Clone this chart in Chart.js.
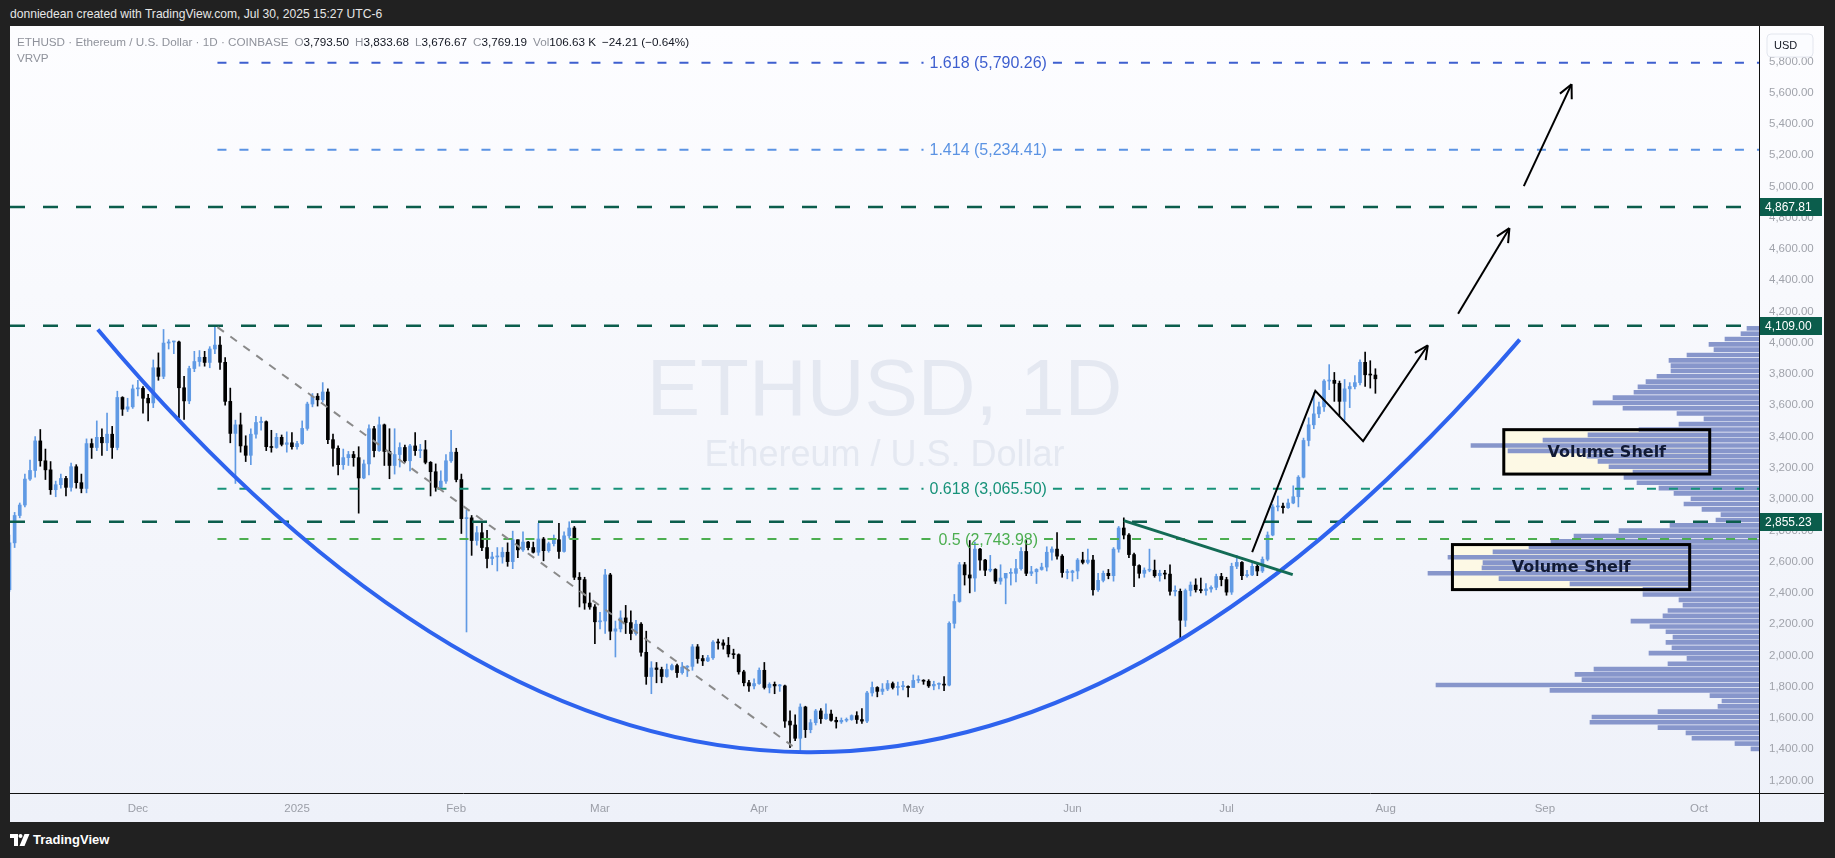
<!DOCTYPE html>
<html>
<head>
<meta charset="utf-8">
<script src="https://cdn.jsdelivr.net/npm/chart.js@4.4.1/dist/chart.umd.min.js"></script>
<style>
  html, body { margin: 0; padding: 0; }
  body { width: 1835px; height: 858px; background: #212121; position: relative; overflow: hidden;
         font-family: "Liberation Sans", Arial, sans-serif; }
  #hdr { position: absolute; left: 10px; top: 7px; color: #e6e6e6; font-size: 12.1px; }
  #panel { position: absolute; left: 10px; top: 26px; width: 1814px; height: 796px;
           background: linear-gradient(#fdfdff, #eef1f9); }
  #wrap { position: absolute; left: 0; top: 0; width: 1814px; height: 796px; }
  #legend { position: absolute; left: 7px; top: 9px; font-size: 11.7px; color: #8f929b; white-space: nowrap; }
  #legend b { font-weight: normal; color: #131722; }
  #legend span { margin-left: 6px; }
  #vrvp { position: absolute; left: 7px; top: 25px; font-size: 11.7px; color: #8f929b; }
  #brand { position: absolute; left: 10px; top: 832px; color: #fff; font-size: 13px; font-weight: bold;
           display: flex; align-items: center; gap: 3px; }
</style>
</head>
<body>
<div id="hdr">donniedean created with TradingView.com, Jul 30, 2025 15:27 UTC-6</div>
<div id="panel">
  <div id="wrap"><canvas id="chart"></canvas></div>
  <div id="legend"></div>
  <div id="vrvp">VRVP</div>
</div>
<div id="brand">
  <svg width="20" height="12" viewBox="0 0 20 12"><path fill="#fff" d="M0 0h8v12h-4v-8h-4z"/><circle cx="10.5" cy="2" r="2" fill="#fff"/><path fill="#fff" d="M14.5 0h5l-5 12h-5z"/></svg>
  <span>TradingView</span>
</div>
<script>
// ETHUSD daily, Coinbase, 2024-11-06 .. 2025-07-30
const firstDate = '2024-11-06'
const opens = [
  2421,2720,2895,2962,3128,3183,3372,3245,3187,3060,3092,3132,3075,3207,3105,3068,3355,3330,3395,3360,3415,3330,3650,3575,3590, // nov
  3705,3708,3645,3615,3840,3785,3998,4005,4005,3712,3628,3835,3880,3907,3874,3960,3985,3875,3625,3420,3475,3340,3280,3415,3490,3495,3335,3330,3395,3350,3360, // dec
  3335,3355,3452,3608,3658,3635,3685,3380,3325,3220,3265,3285,3265,3135,3225,3450,3310,3475,3305,3215,3285,3330,3245,3340,3310,3315,3235,3175,3075,3115,3245, // jan
  3300,3125,2875,2880,2735,2785,2690,2620,2630,2630,2660,2600,2740,2675,2725,2690,2660,2745,2670,2715,2740,2665,2765,2815,2500,2485,2335,2310, // feb
  2215,2220,2515,2155,2170,2240,2210,2140,2200,2020,1865,1920,1910,1865,1910,1935,1890,1925,1930,2055,1980,1965,1985,2085,2080,2065,2010,2005,1895,1825,1805, // mar
  1820,1905,1795,1815,1805,1805,1580,1555,1470,1670,1525,1570,1645,1595,1625,1585,1575,1585,1590,1615,1590,1580,1760,1795,1770,1785,1820,1795,1800,1800, // apr
  1795,1840,1840,1835,1805,1815,1815,1810,2205,2345,2580,2515,2495,2680,2610,2545,2550,2475,2495,2525,2525,2555,2665,2525,2535,2550,2565,2660,2680,2635,2530, // may
  2530,2540,2610,2595,2610,2420,2480,2525,2510,2680,2815,2770,2645,2575,2525,2545,2545,2510,2525,2520,2410,2410,2225,2415,2450,2420,2415,2425,2435,2505, // jun
  2485,2405,2570,2595,2510,2515,2570,2540,2615,2770,2950,2955,2945,2975,3015,3140,3375,3475,3545,3590,3755,3760,3740,3625,3705,3720,3745,3875,3795,3793.5 // jul
]
const highs = [
  2770,2915,2975,3160,3250,3400,3445,3320,3240,3115,3160,3145,3230,3220,3160,3385,3385,3500,3450,3550,3465,3690,3655,3645,3730,
  3760,3720,3670,3890,3935,4085,4020,4010,4010,3785,3850,3945,3950,3945,3975,4109,4040,3905,3710,3505,3550,3405,3450,3530,3525,3500,3440,3420,3410,3430,3425,
  3370,3500,3620,3675,3675,3745,3705,3415,3340,3320,3305,3305,3335,3250,3475,3465,3525,3480,3450,3450,3360,3345,3350,3425,3350,3375,3240,3225,3180,3285,3440,
  3325,3160,2930,2895,2825,2850,2800,2660,2690,2690,2720,2795,2740,2790,2730,2725,2845,2755,2725,2770,2845,2790,2855,2825,2530,2500,2400,2325,
  2275,2550,2525,2220,2285,2320,2285,2225,2210,2155,1960,1955,1925,1945,1945,1945,1955,1935,2070,2070,2000,2000,2095,2105,2100,2115,2040,2010,1905,1840,1850,
  1920,1955,1825,1830,1815,1810,1645,1620,1690,1675,1590,1655,1660,1690,1650,1605,1600,1600,1620,1640,1660,1770,1830,1800,1820,1840,1830,1830,1835,1805,
  1875,1870,1845,1845,1835,1825,1865,2215,2390,2595,2595,2735,2725,2685,2615,2640,2555,2580,2525,2555,2615,2690,2735,2570,2555,2590,2695,2695,2785,2645,2550,
  2545,2620,2660,2680,2640,2525,2540,2550,2690,2825,2880,2780,2655,2580,2560,2680,2610,2545,2545,2580,2445,2425,2425,2470,2490,2495,2460,2445,2520,2525,
  2500,2590,2640,2600,2545,2590,2590,2630,2790,2965,3020,2975,3000,3085,3150,3390,3520,3680,3620,3765,3860,3810,3755,3765,3745,3790,3890,3940,3885,3833.68
]
const lows = [
  2410,2690,2880,2950,3120,3140,3210,3125,3030,3015,3070,3020,3050,3070,3040,3040,3260,3310,3280,3310,3260,3315,3535,3560,3580,
  3660,3550,3500,3585,3760,3770,3960,3930,3520,3510,3610,3815,3850,3850,3840,3930,3830,3600,3360,3100,3300,3240,3220,3390,3440,3310,3300,3325,3340,3300,3320,
  3320,3350,3440,3590,3595,3620,3355,3210,3155,3190,3215,3210,2910,3130,3155,3270,3305,3215,3130,3160,3205,3235,3180,3280,3265,3225,3020,3050,3060,3100,3235,
  3110,2780,2150,2640,2705,2670,2560,2580,2540,2590,2570,2555,2625,2665,2675,2655,2640,2605,2660,2700,2620,2660,2750,2485,2310,2295,2295,2075,
  2170,2140,2100,1990,2150,2140,2100,2130,1995,1815,1755,1825,1825,1860,1905,1860,1880,1865,1905,1950,1935,1960,1975,2040,2040,1990,1980,1880,1805,1770,1785,
  1815,1785,1760,1755,1770,1540,1410,1455,1385,1475,1505,1555,1565,1590,1580,1535,1565,1575,1585,1565,1565,1570,1740,1735,1750,1775,1785,1745,1780,1735,
  1795,1825,1815,1795,1780,1785,1775,1805,2175,2340,2450,2400,2410,2545,2510,2535,2460,2455,2330,2450,2470,2545,2510,2510,2460,2545,2540,2610,2615,2500,2490,
  2475,2490,2585,2585,2385,2410,2470,2490,2475,2660,2745,2625,2440,2495,2500,2535,2500,2475,2490,2385,2380,2110,2185,2380,2405,2400,2385,2405,2420,2445,
  2385,2390,2555,2485,2500,2510,2510,2530,2605,2765,2925,2910,2940,2970,2950,3135,3340,3450,3520,3560,3700,3625,3530,3505,3585,3705,3730,3720,3710,3676.67
]
const closes = [
  2720,2895,2962,3128,3183,3372,3245,3187,3060,3092,3132,3075,3207,3105,3068,3355,3330,3395,3360,3415,3330,3650,3575,3590,3705,
  3708,3645,3615,3840,3785,3998,4005,4005,3712,3628,3835,3880,3907,3874,3960,3985,3875,3625,3420,3475,3340,3280,3415,3490,3495,3335,3330,3395,3350,3360,3335,
  3355,3452,3608,3658,3635,3685,3380,3325,3220,3265,3285,3265,3135,3225,3450,3310,3475,3305,3215,3285,3330,3245,3340,3310,3315,3235,3175,3075,3115,3245,3300,
  3125,2875,2880,2735,2785,2690,2620,2630,2630,2660,2600,2740,2675,2725,2690,2660,2745,2670,2715,2740,2665,2765,2815,2500,2485,2335,2310,2215,
  2220,2515,2155,2170,2240,2210,2140,2200,2020,1865,1920,1910,1865,1910,1935,1890,1925,1930,2055,1980,1965,1985,2085,2080,2065,2010,2005,1895,1825,1805,1820,
  1905,1795,1815,1805,1805,1580,1555,1470,1670,1525,1570,1645,1595,1625,1585,1575,1585,1590,1615,1590,1580,1760,1795,1770,1785,1820,1795,1800,1800,1795,
  1840,1840,1835,1805,1815,1815,1810,2205,2345,2580,2515,2495,2680,2610,2545,2550,2475,2495,2525,2525,2555,2665,2525,2535,2550,2565,2660,2680,2635,2530,2530,
  2540,2610,2595,2610,2420,2480,2525,2510,2680,2815,2770,2645,2575,2525,2545,2545,2510,2525,2520,2410,2410,2225,2415,2450,2420,2415,2425,2435,2505,2485,
  2405,2570,2595,2510,2515,2570,2540,2615,2770,2950,2955,2945,2975,3015,3140,3375,3475,3545,3590,3755,3760,3740,3625,3705,3720,3745,3875,3795,3793.4,3769.19
]

// visible range volume profile (VRVP), rows bottom -> top
const vpLow = 1385, vpHigh = 4109
const vpVolume = [
  8,24,67,73,101,169,167,101,41,37,49,209,323,177,184,165,91,72,110,87,93,
  86,93,109,128,96,91,76,80,116,116,189,260,331,277,276,311,266,230,208,185,
  140,89,43,38,57,75,68,85,100,122,135,126,150,161,172,251,288,216,171,120,
  80,55,82,136,166,146,125,121,113,102,88,88,90,72,45,50,34,18,12
]

// axes
const priceTicks = [1200,1400,1600,1800,2000,2200,2400,2600,2800,3000,3200,3400,3600,3800,4000,4200,4400,4600,4800,5000,5200,5400,5600,5800]
const monthDates = ['2024-12-01','2025-01-01','2025-02-01','2025-03-01','2025-04-01','2025-05-01','2025-06-01','2025-07-01','2025-08-01','2025-09-01','2025-10-01']
const monthLabels = ['Dec','2025','Feb','Mar','Apr','May','Jun','Jul','Aug','Sep','Oct']

// drawings (day offset from 2024-12-01, price)
const levelPrices = [4867.81, 4109.00, 2855.23]
const fibRatios = ['1.618','1.414','0.618','0.5']
const fibPrices = [5790.26, 5234.41, 3065.50, 2743.98]
const fibFromDay = 15.5
const grayTrend = [[15.5, 4100], [127.5, 1420]]
const greenTrend = [[192, 2862], [224.9, 2517]]
const cupArc = [[-7.8, 4085], [129.8, -1290], [269.1, 4020]]   // start, control, end
const pathArrows = [
  [[217.0, 2660], [229.3, 3692], [238.6, 3371], [251.2, 3984]],
  [[257.1, 4186], [267.1, 4733]],
  [[269.9, 5002], [279.2, 5654]]
]
const shelves = [[266.0, 306.1, 3160, 3444], [256.0, 302.2, 2421, 2709]]
const shelfText = 'Volume Shelf'
const watermark = ['ETHUSD, 1D', 'Ethereum / U.S. Dollar']

// styles
const FONT = '"Liberation Sans", Arial, sans-serif'
const upColor = '#609ae4', downColor = '#000000'
const levelColor = '#0b5d4c'
const fibColors = ['#3e5fcf', '#5b93e3', '#179279', '#4cae50']
const vpColor = '#8796cb'

const DAY = 86400000
const base = Date.UTC(2024, 11, 1)
function dayOf(s){ const p = s.split('-').map(Number); return (Date.UTC(p[0], p[1]-1, p[2]) - base) / DAY }
const day0 = dayOf(firstDate)
const monthDays = monthDates.map(dayOf)

const candleColors = closes.map((c, i) => c >= opens[i] ? upColor : downColor)
const wickData = closes.map((c, i) => ({x: day0 + i, y: [lows[i], highs[i]]}))
const bodyData = closes.map((c, i) => ({x: day0 + i, y: [opens[i], c]}))
const vpStep = (vpHigh - vpLow) / vpVolume.length
const vpData = vpVolume.map((v, i) => ({y: vpLow + (i + 0.5) * vpStep, x: v}))

// legend line
const last = closes.length - 1
const fmt = v => v.toLocaleString('en-US', {minimumFractionDigits: 2, maximumFractionDigits: 2})
const chg = closes[last] - closes[last - 1]
document.getElementById('legend').innerHTML =
  'ETHUSD · Ethereum / U.S. Dollar · 1D · COINBASE' +
  '<span>O<b>' + fmt(opens[last]) + '</b></span><span>H<b>' + fmt(highs[last]) + '</b></span>' +
  '<span>L<b>' + fmt(lows[last]) + '</b></span><span>C<b>' + fmt(closes[last]) + '</b></span>' +
  '<span>Vol<b>106.63 K</b></span><span><b>' + (chg < 0 ? '−' : '+') + fmt(Math.abs(chg)) +
  ' (' + (chg < 0 ? '−' : '+') + fmt(Math.abs(chg / closes[last - 1] * 100)) + '%)</b></span>'

function line(ctx, pts, color, w, dash){
  ctx.beginPath()
  ctx.setLineDash(dash || [])
  ctx.strokeStyle = color
  ctx.lineWidth = w
  pts.forEach((p, i) => i ? ctx.lineTo(p[0], p[1]) : ctx.moveTo(p[0], p[1]))
  ctx.stroke()
}
function arrowHead(ctx, a, b, len){
  const ang = Math.atan2(b[1] - a[1], b[0] - a[0])
  ctx.beginPath()
  ctx.setLineDash([])
  for (const s of [-1, 1]) {
    ctx.moveTo(b[0], b[1])
    ctx.lineTo(b[0] - len * Math.cos(ang + s * 0.45), b[1] - len * Math.sin(ang + s * 0.45))
  }
  ctx.stroke()
}

const drawings = {
  id: 'drawings',
  beforeDatasetsDraw(chart){
    const {ctx, chartArea: a, scales: {x, y}} = chart
    ctx.save()
    ctx.textAlign = 'center'
    ctx.fillStyle = '#e4e8f1'
    ctx.font = '80px ' + FONT
    ctx.fillText(watermark[0], (a.left + a.right) / 2, a.top + 389)
    ctx.font = '36px ' + FONT
    ctx.fillText(watermark[1], (a.left + a.right) / 2, a.top + 440)
    ctx.fillStyle = 'rgba(253,249,228,0.95)'
    shelves.forEach(s => {
      ctx.fillRect(x.getPixelForValue(s[0]), y.getPixelForValue(s[3]),
        x.getPixelForValue(s[1]) - x.getPixelForValue(s[0]), y.getPixelForValue(s[2]) - y.getPixelForValue(s[3]))
    })
    ctx.restore()
  },
  afterDatasetsDraw(chart){
    const {ctx, chartArea: a, scales: {x, y}} = chart
    const P = p => [x.getPixelForValue(p[0]), y.getPixelForValue(p[1])]
    ctx.save()
    ctx.beginPath()
    ctx.rect(a.left, a.top, a.right - a.left, a.bottom - a.top)
    ctx.clip()

    // fib levels with centred labels
    ctx.font = '16px ' + FONT
    ctx.textAlign = 'center'
    ctx.textBaseline = 'middle'
    const fx = x.getPixelForValue(fibFromDay)
    fibPrices.forEach((p, i) => {
      const py = y.getPixelForValue(p)
      const label = fibRatios[i] + ' (' + fmt(p) + ')'
      const cx = (fx + a.right) / 2
      const w = ctx.measureText(label).width
      line(ctx, [[fx, py], [cx - w / 2 - 6, py]], fibColors[i], 2, [9, 13])
      line(ctx, [[cx + w / 2 + 6, py], [a.right, py]], fibColors[i], 2, [9, 13])
      ctx.fillStyle = fibColors[i]
      ctx.fillText(label, cx, py + 1)
    })

    // key horizontal levels
    levelPrices.forEach(p => {
      const py = y.getPixelForValue(p)
      line(ctx, [[a.left, py], [a.right, py]], levelColor, 2.6, [15, 18])
    })

    line(ctx, grayTrend.map(P), '#8a8a8a', 2, [8, 8])

    // cup curve
    const c = cupArc.map(P)
    ctx.beginPath()
    ctx.setLineDash([])
    ctx.strokeStyle = '#2e63ee'
    ctx.lineWidth = 4
    ctx.moveTo(c[0][0], c[0][1])
    ctx.quadraticCurveTo(c[1][0], c[1][1], c[2][0], c[2][1])
    ctx.stroke()

    line(ctx, greenTrend.map(P), '#136b55', 3)

    pathArrows.forEach(path => {
      const pts = path.map(P)
      line(ctx, pts, '#000', 2)
      ctx.strokeStyle = '#000'
      arrowHead(ctx, pts[pts.length - 2], pts[pts.length - 1], 15)
    })

    // volume shelf boxes
    ctx.font = 'bold 16px "DejaVu Sans", ' + FONT
    shelves.forEach(s => {
      const x0 = x.getPixelForValue(s[0]), x1 = x.getPixelForValue(s[1])
      const y0 = y.getPixelForValue(s[3]), y1 = y.getPixelForValue(s[2])
      ctx.setLineDash([])
      ctx.strokeStyle = '#000'
      ctx.lineWidth = 3
      ctx.strokeRect(x0, y0, x1 - x0, y1 - y0)
      ctx.fillStyle = '#111a35'
      ctx.fillText(shelfText, (x0 + x1) / 2, (y0 + y1) / 2 + 1)
    })
    ctx.restore()
  },
  afterDraw(chart){
    const {ctx, chartArea: a, scales: {y}, width, height} = chart
    ctx.save()
    ctx.strokeStyle = '#111'
    ctx.lineWidth = 1
    ctx.beginPath()
    ctx.moveTo(a.right + 0.5, 0); ctx.lineTo(a.right + 0.5, height)
    ctx.moveTo(0, a.bottom + 0.5); ctx.lineTo(width, a.bottom + 0.5)
    ctx.stroke()

    // price labels on the axis
    ctx.font = '12px ' + FONT
    ctx.textAlign = 'left'
    ctx.textBaseline = 'middle'
    levelPrices.forEach(p => {
      const py = Math.round(y.getPixelForValue(p))
      ctx.fillStyle = levelColor
      ctx.fillRect(a.right + 1, py - 9, 62, 18)
      ctx.fillStyle = '#fff'
      ctx.fillText(fmt(p), a.right + 6, py + 1)
    })

    // currency box
    ctx.fillStyle = '#fbfcff'
    ctx.strokeStyle = '#e3e6ee'
    ctx.beginPath()
    ctx.roundRect(a.right + 8, 8, 46, 23, 4)
    ctx.fill(); ctx.stroke()
    ctx.fillStyle = '#131722'
    ctx.font = '11px ' + FONT
    ctx.fillText('USD', a.right + 15, 20)
    ctx.restore()
  }
}

Chart.defaults.font.family = FONT

new Chart(document.getElementById('chart'), {
  type: 'bar',
  data: {
    datasets: [
      { data: vpData, indexAxis: 'y', xAxisID: 'xv', yAxisID: 'y', backgroundColor: vpColor,
        barThickness: 4, grouped: false, order: 3 },
      { data: wickData, xAxisID: 'x', yAxisID: 'y', backgroundColor: candleColors,
        barThickness: 1, grouped: false, order: 2 },
      { data: bodyData, xAxisID: 'x', yAxisID: 'y', backgroundColor: candleColors,
        barThickness: 3, minBarLength: 1, grouped: false, order: 1 }
    ]
  },
  options: {
    responsive: true,
    maintainAspectRatio: false,
    animation: false,
    layout: { padding: 0 },
    plugins: { legend: { display: false }, tooltip: { enabled: false } },
    scales: {
      x: {
        type: 'linear', offset: false, min: -24.9, max: 315.7,
        grid: { display: false, drawTicks: false }, border: { display: false },
        afterBuildTicks: s => { s.ticks = monthDays.map(v => ({value: v})) },
        afterFit: s => { s.height = 29; s.paddingLeft = 0; s.paddingRight = 0 },
        ticks: { color: '#9b9ea7', font: { size: 11.5 }, padding: 9, maxRotation: 0, autoSkip: false,
                 callback: (v, i) => monthLabels[i] }
      },
      y: {
        type: 'linear', position: 'right', offset: false, min: 1120, max: 6026,
        grid: { display: false, drawTicks: false }, border: { display: false },
        afterBuildTicks: s => { s.ticks = priceTicks.map(v => ({value: v})) },
        afterFit: s => { s.width = 65; s.paddingTop = 0; s.paddingBottom = 0 },
        ticks: { color: '#a0a3ab', font: { size: 11.5 }, padding: 10, autoSkip: false,
                 callback: v => fmt(v) }
      },
      xv: { type: 'linear', display: false, reverse: true, offset: false, min: 0, max: 1749 }
    }
  },
  plugins: [drawings]
})
</script>
</body>
</html>
